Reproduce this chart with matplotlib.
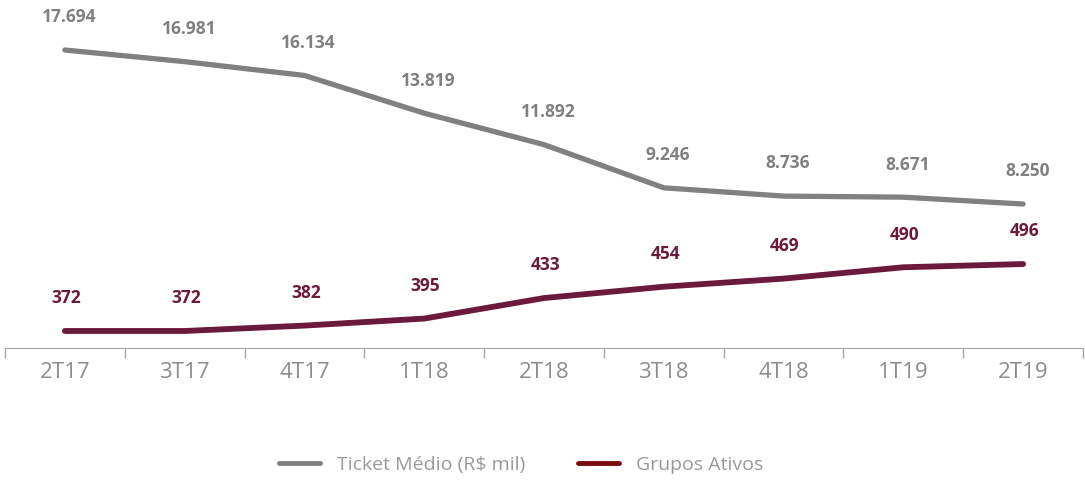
import matplotlib.pyplot as plt
from matplotlib.lines import Line2D

quarters = ['2T17', '3T17', '4T17', '1T18', '2T18', '3T18', '4T18', '1T19', '2T19']
ticket = [17694, 16981, 16134, 13819, 11892, 9246, 8736, 8671, 8250]
grupos = [372, 372, 382, 395, 433, 454, 469, 490, 496]

gray = '#808080'
wine = '#6b1a3c'
plt.rcParams['font.family'] = ['Open Sans', 'DejaVu Sans']

fig = plt.figure(figsize=(10.85, 4.8), dpi=100)
ax = fig.add_axes([5 / 1085, 1 - 348 / 480, 1078 / 1085, 348 / 480])
ax2 = ax.twinx()

x = range(len(quarters))
ax.plot(x, ticket, color=gray, lw=3.8, solid_capstyle='round', solid_joinstyle='round')
ax2.plot(x, grupos, color=wine, lw=4.2, solid_capstyle='round', solid_joinstyle='round')

ax.set_ylim(-577, 20760)
ax2.set_ylim(340.5, 985)
ax.set_xlim(-0.5, len(quarters) - 0.5)

# data labels
for i, v in enumerate(ticket):
    s = f'{v:,}'.replace(',', '.')
    ax.annotate(s, (i, v), xytext=(3, 17), textcoords='offset points', ha='center', va='bottom',
                fontsize=12.5, fontweight='bold', color=gray)
for i, v in enumerate(grupos):
    ax2.annotate(str(v), (i, v), xytext=(1, 17), textcoords='offset points', ha='center', va='bottom',
                 fontsize=12.5, fontweight='bold', color=wine)

for a in (ax, ax2):
    for sp in ('top', 'right', 'left'):
        a.spines[sp].set_visible(False)
    a.set_yticks([])
ax.spines['bottom'].set_color('#a6a6a6')
ax2.spines['bottom'].set_visible(False)

ax.set_xticks(x)
ax.set_xticklabels(quarters, fontsize=16, color='#8c8c8c')
ax.tick_params(axis='x', which='major', length=0, pad=10)
ax.set_xticks([i - 0.5 for i in range(len(quarters) + 1)], minor=True)
ax.tick_params(axis='x', which='minor', length=7, color='#a6a6a6', width=1)

handles = [Line2D([], [], color=gray, lw=3.5, solid_capstyle='round'),
           Line2D([], [], color='#7a0a0a', lw=3.5, solid_capstyle='round')]
fig.legend(handles, ['Ticket Médio (R$ mil)', 'Grupos Ativos'], loc='center',
           bbox_to_anchor=(521 / 1085, 1 - 465 / 480), ncol=2, frameon=False,
           fontsize=14, labelcolor='#999999', handlelength=2.1, columnspacing=2.7,
           handletextpad=0.9)

fig.savefig('out.png', dpi=100)
